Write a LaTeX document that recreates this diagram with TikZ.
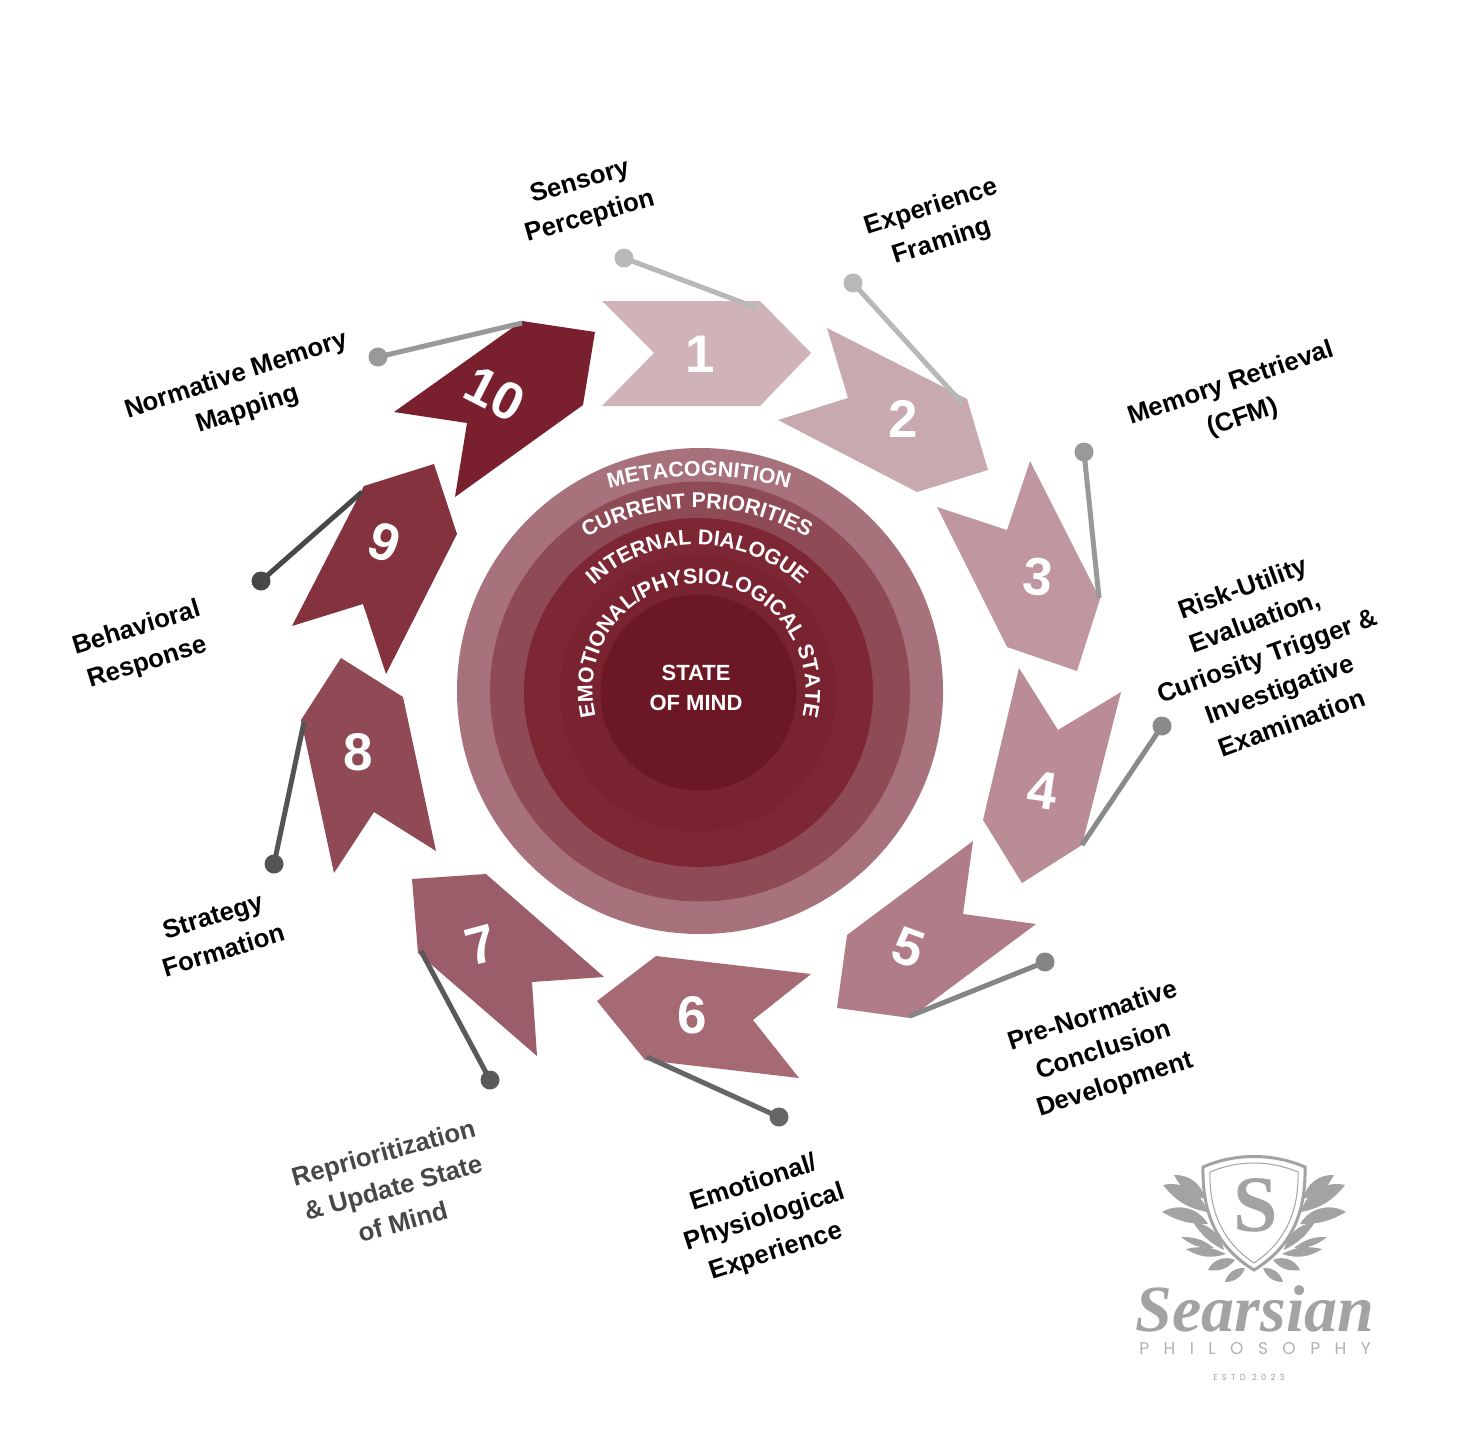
\documentclass[tikz,border=0pt]{standalone}
\usepackage{fontspec}
\setmainfont{Liberation Sans}
\newfontfamily\logoscript{Liberation Serif}
\newfontfamily\logosans{Poppins}
\usetikzlibrary{decorations.text}
\definecolor{a1}{HTML}{CFB3B8}\definecolor{a2}{HTML}{C9A9B0}\definecolor{a3}{HTML}{C097A0}
\definecolor{a4}{HTML}{B98C96}\definecolor{a5}{HTML}{B07C87}\definecolor{a6}{HTML}{A66A75}
\definecolor{a7}{HTML}{9C5D6A}\definecolor{a8}{HTML}{8F4A56}\definecolor{a9}{HTML}{85323F}
\definecolor{a10}{HTML}{7A1F2E}
\definecolor{r1}{HTML}{A8727D}\definecolor{r2}{HTML}{8E4A55}\definecolor{r3}{HTML}{7E2734}
\definecolor{r4}{HTML}{792230}\definecolor{r5}{HTML}{6B1724}
\definecolor{logog}{HTML}{A3A3A3}
\newcommand\curvefont{\fontsize{10.7}{13}\selectfont\bfseries\color{white}}
\tikzset{
  x=0.5pt,y=-0.5pt,
  numlabel/.style={text=white,font=\fontsize{26.5}{30}\selectfont\bfseries,inner sep=0pt},
  steplabel/.style={text=black,font=\fontsize{12.9}{18}\selectfont\bfseries,align=center,inner sep=0pt},
  leaderdot/.style={circle,fill=#1,inner sep=0pt,minimum size=9.5pt},
  leaderline/.style={draw=#1,line width=2.5pt},
  curvedtext/.style={decorate,decoration={text along path,text={|\curvefont|#1},text align=center}},
  centertext/.style={text=white,font=\fontsize{11}{15}\selectfont\bfseries,align=center,inner sep=0pt},
}
\newcommand\logowing{
  \fill[logog] (49,1199) to[bend left=40] (80,1175) to[bend left=25] (49,1199);
  \fill[logog] (47,1212) to[bend left=45] (91,1185) to[bend left=20] (47,1212);
  \fill[logog] (46,1224) to[bend left=45] (92,1212) to[bend left=15] (46,1224);
  \fill[logog] (30,1250) to[bend left=35] (61,1222) to[bend left=15] (30,1250);
  \fill[logog] (40,1248) to[bend left=20] (73,1237) to[bend left=20] (40,1248);
  \fill[logog] (28,1254) to[bend left=20] (68,1249) to[bend left=25] (28,1254);
  \fill[logog] (19,1260) to[bend left=45] (46,1270) to[bend left=30] (19,1260);
  \fill[logog] (9,1268) to[bend left=40] (29,1282) to[bend left=35] (9,1268);
}
\begin{document}
\begin{tikzpicture}
\useasboundingbox[fill=white] (0,0) rectangle (1456,1456);

% central circles
\fill[r1] (700,691) circle[radius=243];
\fill[r2] (700,691.5) circle[radius=210];
\fill[r3] (698.5,692.5) circle[radius=174.5];
\fill[r4] (698,693.5) circle[radius=138];
\fill[r5] (698.5,692.5) circle[radius=98];

% curved texts
\path[curvedtext=METACOGNITION] ({699+332*cos(235)},{808+332*sin(235)}) arc[start angle=235,end angle=305,radius=332];
\path[curvedtext=CURRENT PRIORITIES] ({697+220*cos(220)},{728+220*sin(220)}) arc[start angle=220,end angle=320,radius=220];
\path[curvedtext=INTERNAL DIALOGUE] ({697+153*cos(200)},{698+153*sin(200)}) arc[start angle=200,end angle=340,radius=153];
\path[curvedtext=EMOTIONAL/PHYSIOLOGICAL STATE] ({699+106.5*cos(165)},{690+106.5*sin(165)}) arc[start angle=165,end angle=375,radius=106.5];
\node[centertext] (core) at (696,688) {STATE\\OF MIND};

% arrows
\fill[a1] (602,301)--(760,301)--(811,353)--(760,406)--(602,406)--(654,353)--cycle;
\fill[a2] (827,328)--(967,399)--(988,470)--(917,492)--(778,420)--(848,398)--cycle;
\fill[a3] (1030,461)--(1100,599)--(1077,671)--(1007,647)--(937,507)--(1007,530)--cycle;
\fill[a4] (1019,668)--(1058,730)--(1121,692)--(1082,845)--(1022,883)--(983,820)--cycle;
\fill[a5] (973,841)--(963,914)--(1036,924)--(910,1018)--(837,1008)--(847,935)--cycle;
\fill[a6] (811,974)--(753,1020)--(799,1078)--(645,1060)--(597,1001)--(656,956)--cycle;
\fill[a7] (412,879)--(486,874)--(604,977)--(532,982)--(537,1056)--(418,953)--cycle;
\fill[a8] (341,658)--(403,697)--(436,851)--(374,812)--(334,873)--(301,720)--cycle;
\fill[a9] (434,464)--(457,534)--(386,674)--(363,604)--(292,626)--(364,486)--cycle;
\fill[a10] (522,321)--(595,332)--(583,405)--(455,497)--(467,423)--(394,412)--cycle;

% numbers
\node[numlabel] (n1) at (700,354) {1};
\node[numlabel] (n2) at (903,419) {2};
\node[numlabel,rotate=-6] (n3) at (1038,577) {3};
\node[numlabel,rotate=-8] (n4) at (1043,790) {4};
\node[numlabel,rotate=-20] (n5) at (908,948) {5};
\node[numlabel] (n6) at (692,1015) {6};
\node[numlabel,rotate=15] (n7) at (481,945) {7};
\node[numlabel] (n8) at (358,752) {8};
\node[numlabel,rotate=-20] (n9) at (385,542) {9};
\node[numlabel,rotate=-27] (n10) at (495,394) {10};

% leaders
\coordinate (e1) at (757,308);  \node[leaderdot=black!28] (d1) at (624,258) {};
\coordinate (e2) at (962,403);  \node[leaderdot=black!28] (d2) at (853,283) {};
\coordinate (e3) at (1099,598); \node[leaderdot=black!40] (d3) at (1084,452) {};
\coordinate (e4) at (1082,845); \node[leaderdot=black!46] (d4) at (1162,726) {};
\coordinate (e5) at (910,1016); \node[leaderdot=black!48] (d5) at (1045,962) {};
\coordinate (e6) at (647,1057); \node[leaderdot=black!60] (d6) at (779,1117) {};
\coordinate (e7) at (421,951);  \node[leaderdot=black!65] (d7) at (490,1080) {};
\coordinate (e8) at (304,722);  \node[leaderdot=black!67] (d8) at (274,864) {};
\coordinate (e9) at (362,492);  \node[leaderdot=black!72] (d9) at (261,581) {};
\coordinate (e10) at (522,323); \node[leaderdot=black!40] (d10) at (378,357) {};
\draw[leaderline=black!28] (d1.center)--(e1);
\draw[leaderline=black!28] (d2.center)--(e2);
\draw[leaderline=black!40] (d3.center)--(e3);
\draw[leaderline=black!46] (d4.center)--(e4);
\draw[leaderline=black!48] (d5.center)--(e5);
\draw[leaderline=black!60] (d6.center)--(e6);
\draw[leaderline=black!65] (d7.center)--(e7);
\draw[leaderline=black!67] (d8.center)--(e8);
\draw[leaderline=black!72] (d9.center)--(e9);
\draw[leaderline=black!40] (d10.center)--(e10);

% labels
\node[steplabel,rotate=16] (l1) at (585,200) {Sensory\\Perception};
\node[steplabel,rotate=17.5] (l2) at (937,225) {Experience\\Framing};
\node[steplabel,rotate=18.5] (l3) at (1237,401) {Memory Retrieval\\(CFM)};
\node[steplabel,rotate=20] (l4) at (1267,655) {Risk-Utility\\Evaluation,\\Curiosity Trigger \&\\Investigative\\Examination};
\node[steplabel,rotate=18] (l5) at (1104,1051) {Pre-Normative\\Conclusion\\Development};
\node[steplabel,rotate=18] (l6) at (765,1218) {Emotional/\\Physiological\\Experience};
\node[steplabel,rotate=15.5,text=black!72] (l7) at (393,1187) {Reprioritization\\\& Update State\\of Mind};
\node[steplabel,rotate=17] (l8) at (218,933) {Strategy\\Formation};
\node[steplabel,rotate=17] (l9) at (142,646) {Behavioral\\Response};
\node[steplabel,rotate=18] (l10) at (242,393) {Normative Memory\\Mapping};

% logo
\begin{scope}[shift={(1254,0)}]\logowing\end{scope}
\begin{scope}[shift={(1254,0)},xscale=-1]\logowing\end{scope}
\fill[white] (1203,1167) .. controls (1235,1153) and (1273,1153) .. (1305,1167) .. controls (1306,1215) and (1290,1248) .. (1254,1270) .. controls (1218,1248) and (1202,1215) .. (1203,1167) -- cycle;
\draw[logog,line width=1.5pt] (1203,1167) .. controls (1235,1153) and (1273,1153) .. (1305,1167) .. controls (1306,1215) and (1290,1248) .. (1254,1270) .. controls (1218,1248) and (1202,1215) .. (1203,1167) -- cycle;
\draw[logog,line width=0.5pt] (1210,1172) .. controls (1238,1160) and (1270,1160) .. (1298,1172) .. controls (1299,1213) and (1284,1243) .. (1254,1263) .. controls (1224,1243) and (1209,1213) .. (1210,1172) -- cycle;
\node[text=logog,font=\logoscript\fontsize{40}{40}\selectfont\bfseries,inner sep=0pt] (logoS) at (1256,1205) {S};
\node[text=logog,font=\logoscript\fontsize{33}{33}\selectfont\bfseries\itshape,inner sep=0pt] (logoname) at (1255,1309) {Searsian};
\node[text=black!30,font=\logosans\fontsize{8.5}{10}\selectfont\addfontfeature{LetterSpace=85},inner sep=0pt] (logophil) at (1255,1349) {PHILOSOPHY};
\node[text=black!38,font=\logosans\fontsize{4.2}{5}\selectfont\addfontfeature{LetterSpace=50},inner sep=0pt] (logoestd) at (1249,1377) {ESTD 2023};
\end{tikzpicture}
\end{document}
